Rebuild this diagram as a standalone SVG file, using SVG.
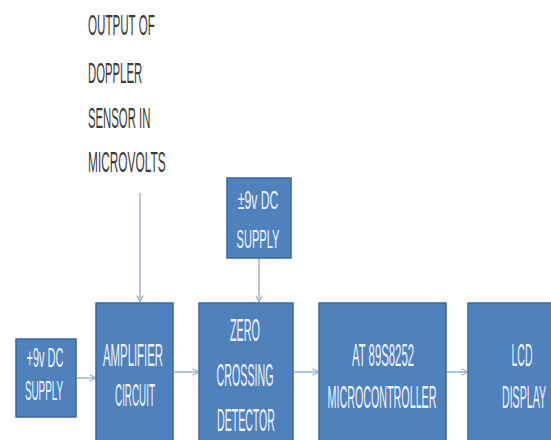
<svg xmlns="http://www.w3.org/2000/svg" width="551" height="440" viewBox="0 0 551 440">
<defs>
<style>
.box{fill:#4f81bd;stroke:#3b6798;stroke-width:1.5}
.lbl{font-family:"Liberation Sans",Arial,sans-serif;font-size:31px;fill:#eef3fa;text-anchor:middle}
.sm{font-size:26px}
.xs{font-size:28px}
.note{font-family:"Liberation Sans",Arial,sans-serif;font-size:30px;fill:#3a3a3a}
.conn{stroke:#9fb3cc;stroke-width:1.5;fill:none}
</style>
<marker id="ah" viewBox="0 0 10 10" refX="9" refY="5" markerWidth="8" markerHeight="8" orient="auto" markerUnits="userSpaceOnUse">
<path d="M1,1 L9,5 L1,9" fill="none" stroke="#9fb3cc" stroke-width="1.5"/>
</marker>
</defs>
<rect width="551" height="440" fill="#ffffff"/>
<g id="note">
<text class="note" transform="translate(88,35) scale(0.387,1)">OUTPUT OF</text>
<text class="note" transform="translate(88,83) scale(0.378,1)">DOPPLER</text>
<text class="note" transform="translate(88,128) scale(0.378,1)">SENSOR IN</text>
<text class="note" transform="translate(88,172) scale(0.396,1)">MICROVOLTS</text>
</g>
<g id="connectors">
<line class="conn" x1="140" y1="193" x2="140" y2="302" marker-end="url(#ah)"/>
<line class="conn" x1="259" y1="258" x2="259" y2="302" marker-end="url(#ah)"/>
<line class="conn" x1="76" y1="378" x2="96" y2="378" marker-end="url(#ah)"/>
<line class="conn" x1="173" y1="372" x2="199" y2="372" marker-end="url(#ah)"/>
<line class="conn" x1="293" y1="372" x2="319" y2="372" marker-end="url(#ah)"/>
<line class="conn" x1="446" y1="372" x2="468" y2="372" marker-end="url(#ah)"/>
</g>
<g id="supply1">
<rect class="box" x="16" y="339" width="60" height="78"/>
<text class="lbl xs" transform="translate(45,367) scale(0.393,1)">+9v DC</text>
<text class="lbl xs" transform="translate(44,400) scale(0.353,1)">SUPPLY</text>
</g>
<g id="supply2">
<rect class="box" x="227" y="178" width="64" height="80"/>
<text class="lbl sm" transform="translate(258,209) scale(0.47,1)">±9v DC</text>
<text class="lbl sm" transform="translate(258,248) scale(0.425,1)">SUPPLY</text>
</g>
<g id="amplifier">
<rect class="box" x="96" y="303" width="77" height="145"/>
<text class="lbl" transform="translate(133,366) scale(0.367,1)">AMPLIFIER</text>
<text class="lbl" transform="translate(135,406) scale(0.318,1)">CIRCUIT</text>
</g>
<g id="zcd">
<rect class="box" x="199" y="303" width="94" height="145"/>
<text class="lbl" transform="translate(245,341) scale(0.349,1)">ZERO</text>
<text class="lbl" transform="translate(245,386) scale(0.345,1)">CROSSING</text>
<text class="lbl" transform="translate(246,431) scale(0.341,1)">DETECTOR</text>
</g>
<g id="mcu">
<rect class="box" x="319" y="303" width="127" height="145"/>
<text class="lbl" transform="translate(383,366) scale(0.366,1)">AT 89S8252</text>
<text class="lbl" transform="translate(382,408) scale(0.346,1)">MICROCONTROLLER</text>
</g>
<g id="lcd">
<rect class="box" x="468" y="303" width="100" height="145"/>
<text class="lbl" transform="translate(522,366) scale(0.339,1)">LCD</text>
<text class="lbl" transform="translate(524,408) scale(0.343,1)">DISPLAY</text>
</g>
</svg>
